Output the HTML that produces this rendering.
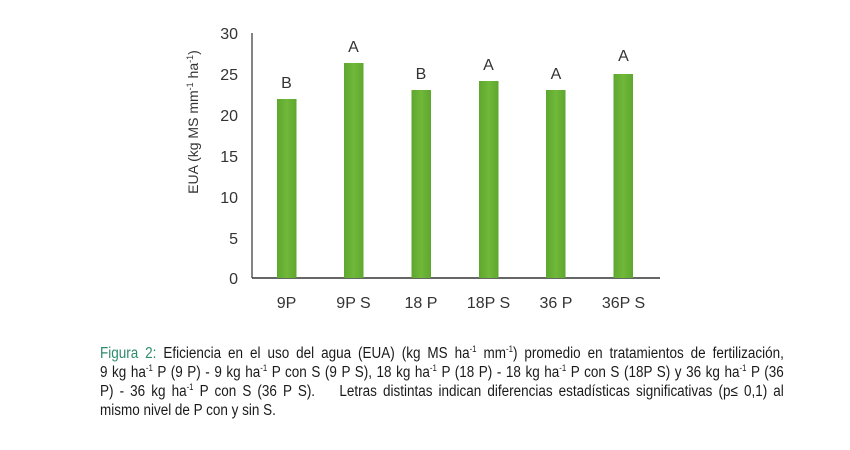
<!DOCTYPE html>
<html><head><meta charset="utf-8"><style>
body{margin:0;background:#fff;width:850px;height:450px;overflow:hidden;font-family:"Liberation Sans",sans-serif}
.cap{position:absolute;left:100px;top:344px;width:786px;transform:scaleX(0.87);transform-origin:0 0;font-size:15.5px;line-height:19px;color:#1a1a1a}
.cap div{white-space:nowrap;text-align:justify;text-align-last:justify}
.cap div.l{text-align-last:left}
.cap .g{color:#2e8b6e}
sup{font-size:9px;line-height:0}
</style></head><body>
<svg width="850" height="330" style="position:absolute;left:0;top:0" font-family="Liberation Sans, sans-serif">
<defs><linearGradient id="gb" x1="0" x2="1"><stop offset="0" stop-color="#5ea72e"/><stop offset="0.5" stop-color="#70b83a"/><stop offset="1" stop-color="#5ea72e"/></linearGradient></defs>
<g font-size="16" fill="#333" text-anchor="end">
<text x="238" y="39">30</text><text x="238" y="80">25</text><text x="238" y="121">20</text>
<text x="238" y="162">15</text><text x="238" y="203">10</text><text x="238" y="244">5</text><text x="238" y="284">0</text>
</g>
<text transform="translate(198,122) rotate(-90)" font-size="14" fill="#333" text-anchor="middle">EUA (kg  MS mm<tspan dy="-5" font-size="9">-1</tspan><tspan dy="5"> ha</tspan><tspan dy="-5" font-size="9">-1</tspan><tspan dy="5">)</tspan></text>
<line x1="252" y1="33" x2="252" y2="278" stroke="#333" stroke-width="1.2"/>
<line x1="252" y1="278" x2="660" y2="278" stroke="#333" stroke-width="1.5"/>
<g fill="url(#gb)">
<rect x="277" y="99" width="19.5" height="179"/>
<rect x="344" y="63" width="19.5" height="215"/>
<rect x="411.5" y="90" width="19.5" height="188"/>
<rect x="479" y="81" width="19.5" height="197"/>
<rect x="546" y="90" width="19.5" height="188"/>
<rect x="613.5" y="74" width="19.5" height="204"/>
</g>
<g font-size="16" fill="#333" text-anchor="middle">
<text x="286.5" y="88">B</text><text x="353.5" y="52">A</text><text x="421" y="79">B</text>
<text x="488.5" y="70">A</text><text x="556" y="79">A</text><text x="623.5" y="61">A</text>
<text x="286.5" y="308">9P</text><text x="353.5" y="308">9P S</text><text x="421" y="308">18 P</text>
<text x="488.5" y="308">18P S</text><text x="556" y="308">36 P</text><text x="623.5" y="308">36P S</text>
</g>
</svg>
<div class="cap">
<div><span class="g">Figura 2:</span> Eficiencia en el uso del agua (EUA) (kg MS ha<sup>-1</sup> mm<sup>-1</sup>) promedio en tratamientos de fertilización,</div>
<div>9 kg ha<sup>-1</sup> P (9 P) - 9 kg ha<sup>-1</sup> P con S (9 P S), 18 kg ha<sup>-1</sup> P (18 P) - 18 kg ha<sup>-1</sup> P con S (18P S) y 36 kg ha<sup>-1</sup> P (36</div>
<div>P) - 36 kg ha<sup>-1</sup> P con S (36 P S). &nbsp;&nbsp; Letras distintas indican diferencias estadísticas significativas (p≤ 0,1) al</div>
<div class="l">mismo nivel de P con y sin S.</div>
</div>
</body></html>
